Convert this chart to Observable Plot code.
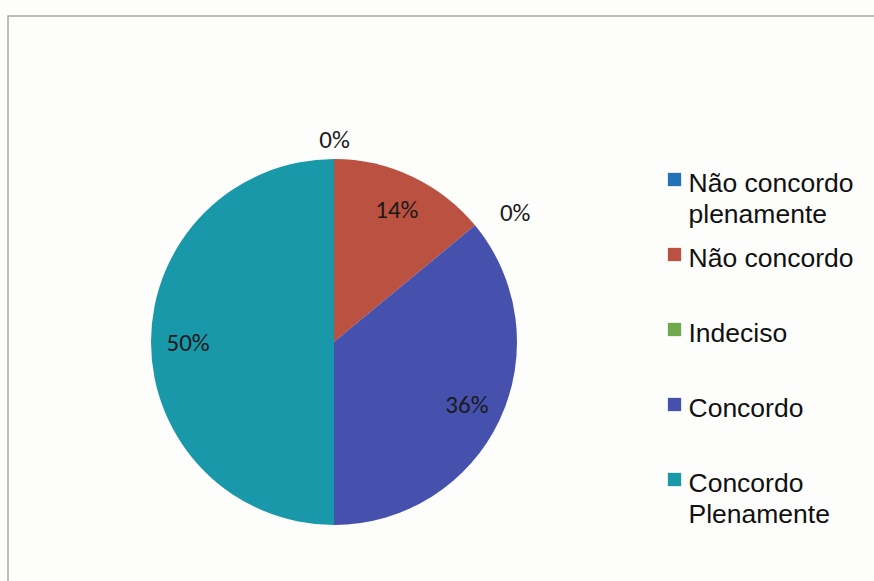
<!DOCTYPE html>
<html>
<head>
<meta charset="utf-8">
<script src="https://cdn.jsdelivr.net/npm/d3@7"></script>
<script src="https://cdn.jsdelivr.net/npm/@observablehq/plot@0.6"></script>
<style>
  html, body { margin: 0; padding: 0; background: #fdfdfb; }
  #chart svg { display: block; }
</style>
</head>
<body>
<div id="chart"></div>
<script>
// ---- data ----
const categories = ["Não concordo plenamente", "Não concordo", "Indeciso", "Concordo", "Concordo Plenamente"];
const legendLabels = ["Não concordo\nplenamente", "Não concordo", "Indeciso", "Concordo", "Concordo\nPlenamente"];
const values = [0, 14, 0, 36, 50];
const colors = ["#2272b5", "#bb5140", "#70a94c", "#4651ae", "#1898a8"];

// ---- layout (styling) ----
const W = 874, H = 581;
const cx = 334, cy = 342, R = 183;
const legendX = 674, legendY0 = 179, legendStep = 75;

const table = categories.map((c, i) => ({category: c, value: values[i], color: colors[i], legend: legendLabels[i], i}));
const total = d3.sum(values);
const arcs = d3.pie().sort(null).value(d => d.value)(table);

const labels = arcs.map(a => {
  const mid = (a.startAngle + a.endAngle) / 2;
  const zero = a.data.value === 0;
  const rr = zero ? R + 20 : R * 0.8;
  const side = zero && Math.sin(mid) > 0.3;
  return {
    x: cx + rr * Math.sin(mid),
    y: cy - rr * Math.cos(mid),
    text: Math.round(a.data.value / total * 100) + "%",
    anchor: side ? "start" : "middle"
  };
});

const legend = table.map((d, i) => ({...d, lx: legendX, ly: legendY0 + i * legendStep}));

function pieMark(index, scales) {
  const sx = scales && scales.x ? scales.x : (v => v);
  const sy = scales && scales.y ? scales.y : (v => v);
  const g = d3.create("svg:g").attr("transform", `translate(${sx(cx)},${sy(cy)})`);
  const arc = d3.arc().innerRadius(0).outerRadius(sx(cx + R) - sx(cx));
  g.selectAll("path").data(arcs).join("path")
    .attr("d", arc)
    .attr("fill", d => d.data.color);
  return g.node();
}

const labelFont = "Carlito, Lato, 'Open Sans', sans-serif";

const plot = Plot.plot({
  width: W,
  height: H,
  margin: 0,
  x: {domain: [0, W], range: [0, W], axis: null},
  y: {domain: [0, H], range: [0, H], axis: null},
  style: {background: "#fdfdfb"},
  marks: [
    Plot.frame({stroke: "#a8a8a8", strokeWidth: 1.5, insetLeft: 7.5, insetTop: 15.5, insetRight: -10, insetBottom: -10}),
    pieMark,
    Plot.text(labels.filter(d => d.anchor === "middle"), {
      x: "x", y: "y", text: "text", textAnchor: "middle", lineAnchor: "middle",
      fontFamily: labelFont, fontSize: 25, fill: "#1a1a1a"
    }),
    Plot.text(labels.filter(d => d.anchor === "start"), {
      x: "x", y: "y", text: "text", textAnchor: "start", lineAnchor: "middle", dx: 9,
      fontFamily: labelFont, fontSize: 25, fill: "#1a1a1a"
    }),
    Plot.dot(legend, {
      x: "lx", y: "ly", symbol: "square", r: 7.5, fill: "color", stroke: null
    }),
    Plot.text(legend, {
      x: "lx", y: "ly", text: "legend", textAnchor: "start", lineAnchor: "top",
      dx: 14, dy: -9.5, lineHeight: 1.17,
      fontFamily: "'Liberation Sans', Arial, sans-serif", fontSize: 26.5, fill: "#111"
    })
  ]
});

document.getElementById("chart").appendChild(plot);
</script>
</body>
</html>
